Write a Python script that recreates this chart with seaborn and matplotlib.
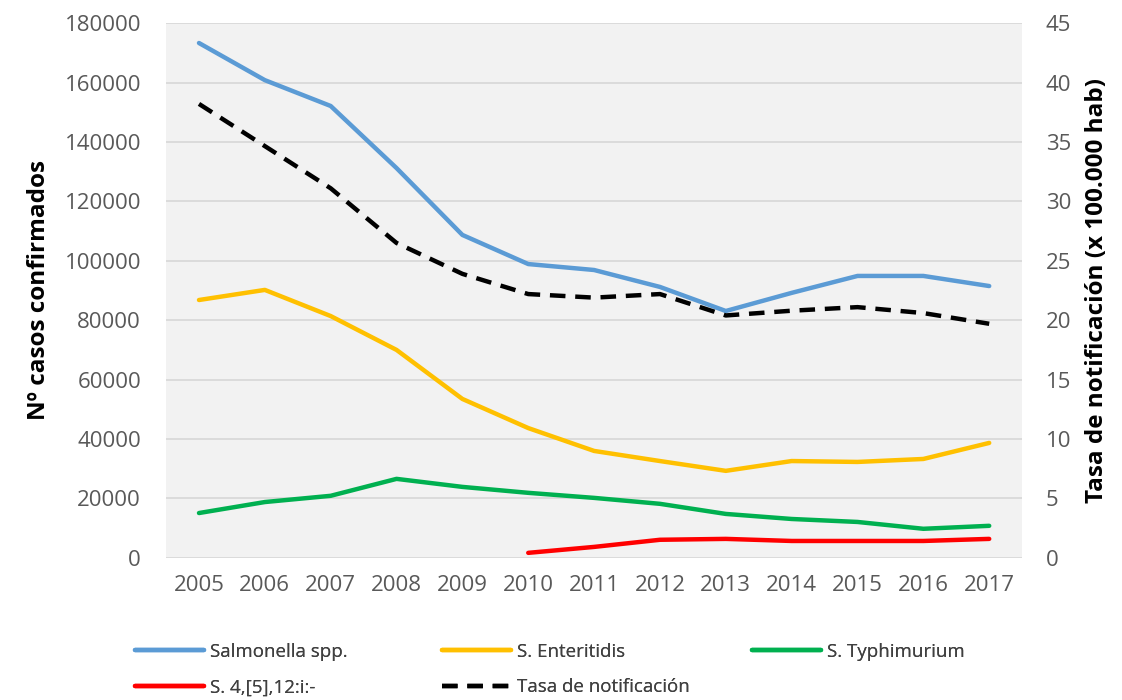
import pandas as pd
import matplotlib.pyplot as plt
import seaborn as sns

# data
years = list(range(2005, 2018))
salmonella = [173300, 160800, 152100, 131200, 108700, 98900, 96900, 91200, 83100, 89200, 94900, 94900, 91500]
enteritidis = [86800, 90200, 81400, 70000, 53500, 43700, 36000, 32600, 29300, 32600, 32300, 33300, 38700]
typhimurium = [15100, 18800, 20900, 26600, 23900, 21900, 20200, 18200, 14800, 13100, 12100, 9800, 10800]
s4_years = list(range(2010, 2018))
s4_5_12 = [1700, 3700, 6100, 6400, 5700, 5700, 5700, 6400]
tasa = [38.2, 34.65, 31.1, 26.5, 23.9, 22.2, 21.9, 22.2, 20.4, 20.8, 21.1, 20.6, 19.7]

names = ['Salmonella spp.', 'S. Enteritidis', 'S. Typhimurium', 'S. 4,[5],12:i:-']
colors = ['#5b9bd5', '#ffc000', '#00b050', '#ff0000']

frames = [
    pd.DataFrame({'Año': years, 'Casos': salmonella, 'Serie': names[0]}),
    pd.DataFrame({'Año': years, 'Casos': enteritidis, 'Serie': names[1]}),
    pd.DataFrame({'Año': years, 'Casos': typhimurium, 'Serie': names[2]}),
    pd.DataFrame({'Año': s4_years, 'Casos': s4_5_12, 'Serie': names[3]}),
]
casos = pd.concat(frames, ignore_index=True)
tasa_df = pd.DataFrame({'Año': years, 'Tasa': tasa})

sns.set_theme(style="white")
plt.rcParams['font.family'] = ['Open Sans', 'DejaVu Sans']

fig = plt.figure(figsize=(11.22, 7), dpi=100)
ax = fig.add_axes([0.148, 0.203, 0.763, 0.764])
ax2 = ax.twinx()

sns.lineplot(ax=ax, data=casos, x='Año', y='Casos', hue='Serie', hue_order=names,
             palette=dict(zip(names, colors)), linewidth=3.2, legend=False)
sns.lineplot(ax=ax2, data=tasa_df, x='Año', y='Tasa', color='black', linewidth=3.2,
             linestyle=(0, (3.5, 2.2)), legend=False)

ax.set_facecolor('#f2f2f2')
ax.set_zorder(ax2.get_zorder() - 1)
ax2.patch.set_visible(False)
ax.set_xlim(2004.5, 2017.5)
ax.set_ylim(0, 180000)
ax2.set_ylim(0, 45)
ax.set_yticks(range(0, 180001, 20000))
ax2.set_yticks(range(0, 46, 5))
ax.set_xticks(years)
ax.grid(axis='y', color='#d9d9d9', linewidth=1.3)
ax.set_axisbelow(True)
for a in (ax, ax2):
    for s in a.spines.values():
        s.set_visible(False)
ax.tick_params(axis='y', labelsize=16, labelcolor='#595959', length=0, pad=18)
ax.tick_params(axis='x', labelsize=16, labelcolor='#595959', length=0, pad=12)
ax2.tick_params(axis='y', labelsize=16, labelcolor='#595959', length=0, pad=17)

ax.set_xlabel('')
ax.set_ylabel('Nº casos confirmados', fontsize=17.5, fontweight='bold', color='black', labelpad=10)
ax2.set_ylabel('Tasa de notificación (x 100.000 hab)', fontsize=17.5, fontweight='bold',
               color='black', labelpad=10)

# legend: one small legend per column so the columns sit where they do in the original
h = dict(zip(names, ax.get_lines()))
tasa_line = ax2.get_lines()[0]
columns = [
    ([h[names[0]], h[names[3]]], [names[0], names[3]], 0.120),
    ([h[names[1]], tasa_line], [names[1], 'Tasa de notificación'], 0.394),
    ([h[names[2]]], [names[2]], 0.670),
]
for handles, labels, x0 in columns:
    leg = fig.legend(handles, labels, loc='upper left', bbox_to_anchor=(x0, 0.082),
                     frameon=False, fontsize=13.5, handlelength=3.7, handletextpad=0.3,
                     labelspacing=0.95, labelcolor='#404040', borderaxespad=0, borderpad=0)
    fig.add_artist(leg)

plt.savefig('out.png', dpi=100)
